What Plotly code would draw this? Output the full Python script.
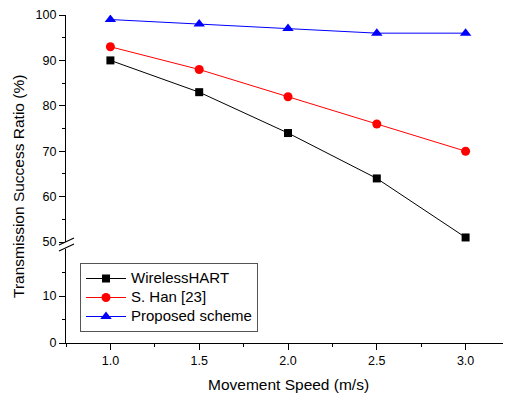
import plotly.graph_objects as go

speeds = [1.0, 1.5, 2.0, 2.5, 3.0]
wirelesshart = [90, 83, 74, 64, 51]
s_han = [93, 88, 82, 76, 70]
proposed = [99, 98, 97, 96, 96]
series_names = ["WirelessHART", "S. Han [23]", "Proposed scheme"]

FONT = "Liberation Sans, Arial, sans-serif"

def leg(name):
    return "<span style='font-size:15px'>" + name + "</span>"

fig = go.Figure()
fig.add_trace(go.Scatter(x=speeds, y=wirelesshart, name=leg(series_names[0]), mode="lines+markers",
                         line=dict(color="black", width=1),
                         marker=dict(symbol="square", size=8, color="black")))
fig.add_trace(go.Scatter(x=speeds, y=s_han, name=leg(series_names[1]), mode="lines+markers",
                         line=dict(color="red", width=1),
                         marker=dict(symbol="circle", size=9, color="red")))
fig.add_trace(go.Scatter(x=speeds, y=proposed, name=leg(series_names[2]), mode="lines+markers",
                         line=dict(color="blue", width=1),
                         marker=dict(symbol="triangle-up", size=10, color="blue")))
# invisible trace to keep lower axis segment alive
fig.add_trace(go.Scatter(x=[None], y=[None], yaxis="y2", showlegend=False, hoverinfo="skip"))

# plot area in screen pixels: x 66..510, y 15..343 (page body has an 8px margin)
def px_x(p):
    return (p - 66) / 444.0

def px_y(p):
    return (343 - p) / 328.0

axis_common = dict(showgrid=False, zeroline=False, showline=True, linecolor="black", linewidth=1.2,
                   ticks="outside", ticklen=6, tickwidth=1.2, tickcolor="black", automargin=False,
                   tickfont=dict(family=FONT, size=12.5, color="black"))

fig.update_layout(
    width=503, height=387,
    margin=dict(l=58, r=1, t=7, b=52),
    paper_bgcolor="white", plot_bgcolor="white",
    font=dict(family=FONT, color="black"),
    xaxis=dict(range=[0.75, 3.25], anchor="y2", tickvals=[1.0, 1.5, 2.0, 2.5, 3.0],
               ticktext=["1.0", "1.5", "2.0", "2.5", "3.0"],
               minor=dict(ticks="outside", ticklen=3, tickwidth=1.2, tickcolor="black", dtick=0.25),
               **axis_common),
    yaxis=dict(domain=[px_y(242), 1.0], range=[50, 100], anchor="x", dtick=10,
               minor=dict(ticks="outside", ticklen=3, tickwidth=1.2, tickcolor="black", dtick=5),
               **axis_common),
    yaxis2=dict(domain=[0.0, px_y(249)], range=[0, 20], anchor="x", tickvals=[0, 10],
                minor=dict(ticks="outside", ticklen=3, tickwidth=1.2, tickcolor="black", tickvals=[5, 15]),
                **axis_common),
    legend=dict(x=px_x(80), y=px_y(263), xanchor="left", yanchor="top",
                bordercolor="#555555", borderwidth=1, bgcolor="white",
                font=dict(family=FONT, size=12, color="black"),
                tracegroupgap=0, itemwidth=40),
    showlegend=True,
)

fig.add_annotation(text="Transmission Success Ratio (%)", xref="paper", yref="paper",
                   x=px_x(18), y=px_y(187), xanchor="center", yanchor="middle",
                   textangle=-90, showarrow=False,
                   font=dict(family=FONT, size=15.5, color="black"))
fig.add_annotation(text="Movement Speed (m/s)", xref="paper", yref="paper",
                   x=px_x(288), y=px_y(385), xanchor="center", yanchor="middle", showarrow=False,
                   font=dict(family=FONT, size=15.5, color="black"))

for y0 in (245, 251):
    fig.add_shape(type="line", xref="paper", yref="paper",
                  x0=px_x(59), y0=px_y(y0), x1=px_x(74), y1=px_y(y0 - 7),
                  line=dict(color="black", width=1.2))

fig.write_html("out.html")
